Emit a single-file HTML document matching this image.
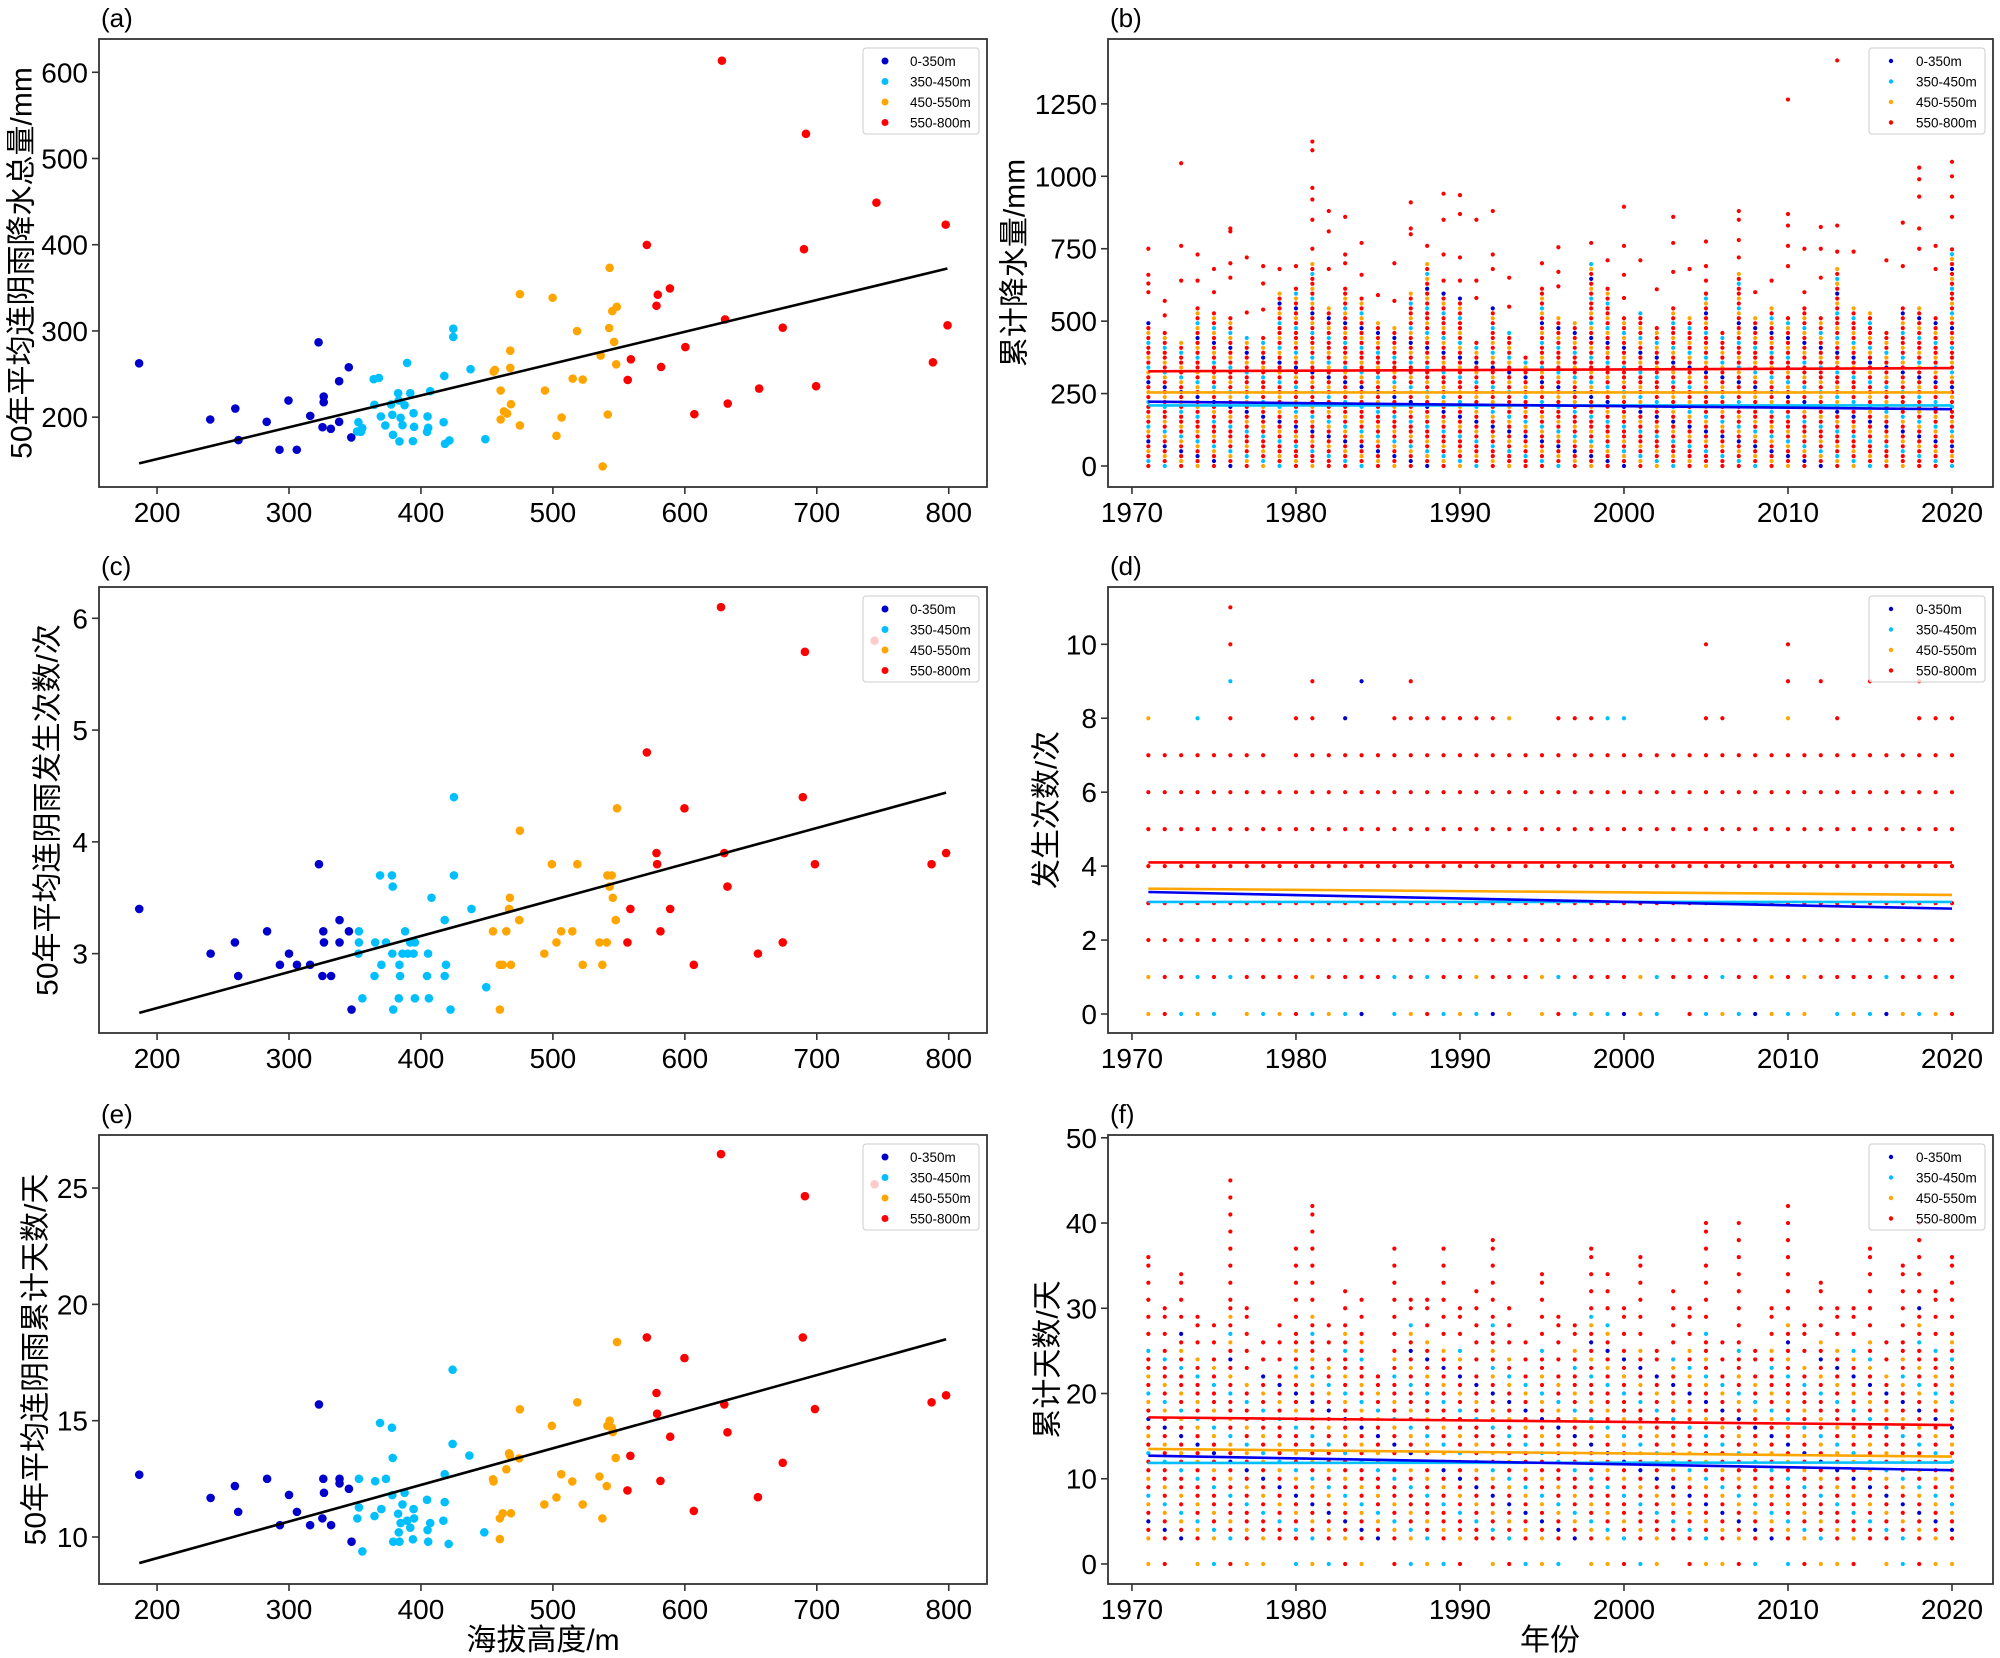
<!DOCTYPE html>
<html><head><meta charset="utf-8"><title>连阴雨 海拔与年际变化</title>
<style>
html,body{margin:0;padding:0;background:#fff;}
svg{display:block;}
text{font-family:"Liberation Sans","Noto Sans CJK SC",sans-serif;fill:#000;}
</style></head>
<body>
<svg id="chart" width="2000" height="1658" viewBox="0 0 2000 1658" xmlns="http://www.w3.org/2000/svg"></svg>
<script>
// ===== scatter data (elevation m, value) =====
const aBlue=[[186.4,262.5],[240.3,197.3],[259.3,210],[261.7,173.4],[283.1,194.6],[292.8,162.2],[299.6,219.3],[305.9,162.2],[316.1,201.5],[322.4,286.8],[325.4,188.4],[326.3,223.9],[326.3,217.4],[331.7,186.5],[338,241.7],[338,194.6],[345.3,257.9],[347.2,176.5]];
const aCyan=[[352.6,194.2],[351.6,183.4],[355.5,187.3],[354.5,183],[364.2,244],[364.7,214.3],[368.1,245.5],[369.6,200.8],[373,190.4],[377.4,214.7],[378.3,202.7],[378.8,179.5],[382.7,227.8],[383.2,219.3],[383.7,171.8],[384.6,199.2],[386,190.7],[387.6,213.9],[389.5,262.9],[391.9,227.8],[393.9,172.2],[394.4,204.6],[394.8,188.8],[404.6,183],[405,200.8],[405.5,187.6],[407,230.1],[417.2,194.2],[417.7,247.8],[418.2,169.1],[421.6,173],[424.5,293],[424.5,302.6],[437.6,255.6],[448.8,174.5]];
const aOrange=[[455.1,252.8],[456,254.8],[460.4,230.9],[460.4,197.3],[462.9,206.6],[465.3,204.2],[467.7,277.1],[467.7,257.1],[468.2,215],[475,342.7],[475,190.4],[494,230.9],[499.8,338.5],[502.7,178.4],[506.6,199.6],[518.3,299.9],[515,244.7],[522.6,243.6],[536.2,271.4],[537.7,142.9],[541.6,203.1],[542.6,303.4],[543,373.2],[545,323],[546.4,287.2],[548.4,328],[548,261.3]];
const aRed=[[556.7,243.2],[559.1,267.1],[571.2,399.8],[578.5,329.2],[579.5,342],[582,258.2],[588.7,349.3],[600.4,281.3],[607.2,203.5],[628.1,613.5],[630.5,313.4],[632.5,215.8],[656.3,233.2],[674.2,303.8],[690.3,394.8],[691.8,528.6],[699.5,235.9],[745.2,448.8],[788,263.6],[797.7,423.3],[799.1,306.5]];
const aTrend=[[186.4,146.4],[799,372.4]];

const cBlue=[[186.5,3.4],[240.6,3.0],[259,3.1],[261.5,2.8],[283.4,3.2],[293.1,2.9],[300,3.0],[306,2.9],[316,2.9],[322.7,3.8],[325.3,2.8],[326,3.2],[326.5,3.1],[331.9,2.8],[338.3,3.3],[338.3,3.1],[345.4,3.2],[347.4,2.5]];
const cCyan=[[352.6,3.0],[353,3.2],[353,3.1],[355.6,2.6],[364.8,2.8],[365.3,3.1],[369,3.7],[370,2.9],[373.5,3.1],[378,3.7],[378.6,3.6],[378.3,3.0],[379,2.5],[383.7,2.9],[384.2,2.8],[383.2,2.6],[386,3.0],[388,3.2],[390,3.0],[391.8,3.1],[394.4,3.0],[395.4,3.1],[395.4,2.6],[404.6,2.8],[405.4,3.0],[406,2.6],[408,3.5],[418,3.3],[419,2.9],[418,2.8],[422.4,2.5],[425,4.4],[425,3.7],[438.3,3.4],[449.5,2.7]];
const cOrange=[[454.6,3.2],[459.8,2.9],[462,2.9],[468.2,2.9],[459.8,2.5],[464.7,3.2],[466.8,3.4],[467.4,3.5],[474.5,3.3],[475,4.1],[493.5,3.0],[499.2,3.8],[502.7,3.1],[506.3,3.2],[514.7,3.2],[518.5,3.8],[522.6,2.9],[535.3,3.1],[537.5,2.9],[540.8,3.1],[541.3,3.7],[544.6,3.7],[543,3.6],[545.4,3.5],[547.6,3.3],[548.6,4.3]];
const cRed=[[556.5,3.1],[558.7,3.4],[571.2,4.8],[578.5,3.9],[579,3.8],[581.5,3.2],[588.9,3.4],[599.7,4.3],[606.8,2.9],[627.4,6.1],[629.9,3.9],[632.3,3.6],[655.4,3.0],[674.2,3.1],[689.4,4.4],[691,5.7],[698.6,3.8],[743.8,5.8],[787,3.8],[798,3.9]];
const cTrend=[[186.5,2.47],[798,4.44]];

const eBlue=[[186.5,12.68],[240.6,11.68],[259,12.19],[261.5,11.08],[283.4,12.5],[293.1,10.51],[300,11.81],[306,11.08],[316,10.51],[322.7,15.7],[325.3,10.8],[326,12.5],[326.5,11.9],[331.9,10.51],[338.3,12.5],[338.3,12.3],[345.4,12.07],[347.4,9.8]];
const eCyan=[[353,12.5],[353,11.27],[351.8,10.8],[355.6,9.38],[364.8,10.9],[365.3,12.4],[369,14.9],[370,11.2],[373.5,12.5],[378,14.7],[378.6,13.4],[378.3,11.8],[379,9.8],[382.7,11.0],[383.2,10.2],[383.7,9.8],[384.6,10.6],[386,11.4],[387.6,11.9],[389.5,10.7],[391.9,10.4],[393.9,9.9],[394.4,11.2],[394.8,10.8],[404.6,11.6],[405,10.3],[405.5,9.8],[407,10.6],[417,10.7],[418,11.5],[418,12.7],[421,9.7],[424,17.19],[424,14.0],[436.7,13.5],[448,10.2]];
const eOrange=[[454.6,12.48],[455,12.39],[459.8,10.8],[462,11.02],[468.2,11.02],[459.8,9.91],[464.7,12.91],[466.8,13.6],[467.4,13.5],[474.5,13.38],[475,15.49],[493.5,11.4],[499.2,14.78],[502.7,11.7],[506.3,12.7],[514.7,12.39],[518.5,15.79],[522.6,11.4],[535.3,12.6],[537.5,10.8],[540.8,12.19],[541.3,14.78],[543,15.0],[544.6,14.7],[545.4,14.51],[547.6,13.4],[548.6,18.38]];
const eRed=[[556.5,12.0],[558.7,13.49],[571.2,18.58],[578.5,16.19],[579,15.3],[581.5,12.41],[588.9,14.31],[599.7,17.69],[606.8,11.12],[627.4,26.46],[629.9,15.7],[632.3,14.5],[655.4,11.71],[674.2,13.19],[689.4,18.58],[691,24.65],[698.6,15.5],[743.8,25.16],[787,15.79],[798,16.09]];
const eTrend=[[186.5,8.88],[798,18.5]];

// ===== yearly data =====
const years=[1971,1972,1973,1974,1975,1976,1977,1978,1979,1980,1981,1982,1983,1984,1985,1986,1987,1988,1989,1990,1991,1992,1993,1994,1995,1996,1997,1998,1999,2000,2001,2002,2003,2004,2005,2006,2007,2008,2009,2010,2011,2012,2013,2014,2015,2016,2017,2018,2019,2020];
const bHigh=[500,470,430,560,540,520,450,450,600,620,700,560,620,580,500,490,600,700,600,580,430,560,460,390,620,520,500,700,620,510,540,480,550,520,600,460,670,510,560,520,550,510,680,550,540,460,560,560,510,750];
const bOutliers=[[1971,660],[1971,630],[1971,600],[1971,750],[1972,570],[1972,520],[1973,640],[1973,760],[1973,1045],[1974,640],[1974,730],[1975,600],[1975,680],[1976,650],[1976,700],[1976,820],[1976,810],[1977,530],[1977,720],[1978,540],[1978,630],[1978,690],[1979,680],[1980,690],[1981,750],[1981,850],[1981,920],[1981,960],[1981,1090],[1981,1120],[1982,680],[1982,810],[1982,880],[1983,700],[1983,730],[1983,860],[1984,660],[1984,770],[1985,590],[1986,570],[1986,700],[1987,800],[1987,820],[1987,910],[1988,760],[1989,640],[1989,730],[1989,850],[1989,940],[1990,640],[1990,720],[1990,870],[1990,935],[1991,580],[1991,640],[1991,850],[1992,680],[1992,730],[1992,880],[1993,550],[1993,650],[1995,700],[1996,620],[1996,670],[1996,755],[1998,770],[1999,710],[2000,580],[2000,660],[2000,760],[2000,895],[2001,710],[2002,610],[2003,670],[2003,770],[2003,860],[2004,680],[2005,640],[2005,690],[2005,775],[2007,720],[2007,780],[2007,850],[2007,880],[2008,600],[2009,640],[2010,690],[2010,760],[2010,830],[2010,870],[2010,1265],[2011,600],[2011,750],[2012,650],[2012,750],[2012,825],[2013,740],[2013,830],[2013,1400],[2014,740],[2016,710],[2017,690],[2017,840],[2018,750],[2018,820],[2018,930],[2018,990],[2018,1030],[2019,680],[2019,760],[2020,860],[2020,930],[2020,1000],[2020,1050]];
const bTrendBlue=[222,196];
const bTrendCyan=[209,209];
const bTrendOrange=[254,254];
const bTrendRed=[327,338];

const dMax=[7,7,7,7,7,7,7,7,6,7,7,7,7,7,7,7,7,7,7,7,7,7,7,7,7,7,7,7,7,7,7,7,7,7,7,7,7,7,7,7,7,7,7,7,7,7,7,7,7,7];
const dOutliers=[[1971,8,2],[1974,8,1],[1976,8,3],[1976,9,1],[1976,10,3],[1976,11,3],[1980,8,3],[1981,8,3],[1981,9,3],[1983,8,0],[1984,9,0],[1986,8,3],[1987,8,3],[1987,9,3],[1988,8,3],[1989,8,3],[1990,8,3],[1991,8,3],[1992,8,3],[1993,8,2],[1996,8,3],[1997,8,3],[1998,8,3],[1999,8,1],[2000,8,1],[2005,8,3],[2005,10,3],[2006,8,3],[2010,8,2],[2010,9,3],[2010,10,3],[2012,9,3],[2013,8,3],[2015,9,3],[2018,8,3],[2018,9,3],[2019,8,3],[2020,8,3]];
const dTrendBlue=[3.30,2.85];
const dTrendCyan=[3.03,3.03];
const dTrendOrange=[3.39,3.22];
const dTrendRed=[4.1,4.1];

const fTop=[36,30,34,29,28,45,30,26,28,37,42,28,32,31,22,37,31,31,37,30,32,38,30,26,34,29,28,37,34,30,36,25,32,30,40,26,40,25,30,42,28,33,30,30,37,26,35,40,32,36];
const fDense=[25,25,27,24,24,31,21,22,22,27,29,24,28,27,22,25,28,26,25,25,22,29,24,22,25,22,25,30,28,25,25,22,24,25,27,22,26,22,25,28,23,26,25,25,26,22,26,30,25,27];
const fTrendBlue=[12.7,11.0];
const fTrendCyan=[11.85,11.9];
const fTrendOrange=[13.5,12.6];
const fTrendRed=[17.2,16.3];

const groupNames=['0-350m','350-450m','450-550m','550-800m'];
const COLORS=['#0000cd','#00bfff','#ffa500','#ff0000'];

// ===== helpers =====
const NS='http://www.w3.org/2000/svg';
const svg=document.getElementById('chart');
function mk(tag,attrs,parent){const e=document.createElementNS(NS,tag);for(const k in attrs)e.setAttribute(k,attrs[k]);(parent||svg).appendChild(e);return e;}

function panel(id,box,xd,yd,xticks,yticks,ytitle,ytitleX,label){
  const g=mk('g',{});
  
  
  const sx=v=>box.l+(v-xd[0])/(xd[1]-xd[0])*(box.r-box.l);
  const sy=v=>box.b-(v-yd[0])/(yd[1]-yd[0])*(box.b-box.t);
  const plot=mk('g',{},g);
  
  
  const xa=mk('g',{},g);
  
  
  xticks.forEach(v=>{
    const x=sx(v);
    const t=mk('line',{x1:x,x2:x,y1:box.b,y2:box.b+7,stroke:'#333','stroke-width':1.6},xa);
    
    
    const tx=mk('text',{x:x,y:box.b+35,'text-anchor':'middle','font-size':28},xa);
    
    
    tx.textContent=v;
  });
  const ya=mk('g',{},g);
  
  
  yticks.forEach(v=>{
    const y=sy(v);
    const t=mk('line',{x1:box.l-7,x2:box.l,y1:y,y2:y,stroke:'#333','stroke-width':1.6},ya);
    
    
    const tx=mk('text',{x:box.l-11,y:y+10,'text-anchor':'end','font-size':28},ya);
    
    
    tx.textContent=v;
  });
  const cy=(box.t+box.b)/2;
  const yt=mk('text',{x:ytitleX,y:cy,'text-anchor':'middle','font-size':30,transform:'rotate(-90 '+ytitleX+' '+cy+')','dominant-baseline':'central'},g);
  
  
  yt.textContent=ytitle;
  const lb=mk('text',{x:box.l+2,y:box.t-12,'font-size':26},g);
  
  
  lb.textContent=label;
  return {g,plot,sx,sy,box};
}
function frame(p,id){
  const r=mk('rect',{x:p.box.l,y:p.box.t,width:p.box.r-p.box.l,height:p.box.b-p.box.t,fill:'none',stroke:'#333','stroke-width':1.8},p.g);
  
  
}
function legend(p,id,rad){
  const lg=mk('g',{},p.g);
  
  
  const x0=p.box.r-124,y0=p.box.t+9;
  mk('rect',{x:x0,y:y0,width:116,height:86,rx:3,fill:'#fff','fill-opacity':0.8,stroke:'#ccc','stroke-width':1},lg);
  groupNames.forEach((n,i)=>{
    const e=mk('g',{},lg);
    
    
    const yy=y0+13+i*20.5;
    mk('circle',{cx:x0+22,cy:yy,r:rad,fill:COLORS[i]},e);
    const t=mk('text',{x:x0+47,y:yy+5,'font-size':13.5},e);
    t.textContent=n;
  });
}
function scatter(p,id,sets){
  sets.forEach((pts,gi)=>{
    const sg=mk('g',{},p.plot);
    
    
    pts.forEach(d=>{
      const c=mk('circle',{cx:p.sx(d[0]),cy:p.sy(d[1]),r:4.3,fill:COLORS[gi]},sg);
      
      
    });
  });
}
function trendLine(p,tr,color,name,w){
  const l=mk('line',{x1:p.sx(tr[0][0]),y1:p.sy(tr[0][1]),x2:p.sx(tr[1][0]),y2:p.sy(tr[1][1]),stroke:color,'stroke-width':w||2.6},p.plot);
  
  
}
function dot(p,yr,v,gi,parent){
  const c=mk('circle',{cx:p.sx(yr),cy:p.sy(v),r:2.1,fill:COLORS[gi]},parent);
  
  
}
const mixPat=[3,1,3,2,3,0,3,2,1,3,2,3];

const L={l:99,r:987}, R={l:1108,r:1993};
const row1={t:39,b:487}, row2={t:587,b:1033}, row3={t:1135,b:1584};
const elevTicks=[200,300,400,500,600,700,800];
const yearTicks=[1970,1980,1990,2000,2010,2020];

// (a)
const pa=panel('a',{...L,...row1},[156,829],[119,638.6],elevTicks,[200,300,400,500,600],'50年平均连阴雨降水总量/mm',22,'(a)');
scatter(pa,'a',[aBlue,aCyan,aOrange,aRed]);
trendLine(pa,aTrend,'#000','trend-line-a');
frame(pa,'a'); legend(pa,'a',3.5);
// (c)
const pc=panel('c',{...L,...row2},[156,829],[2.29,6.28],elevTicks,[3,4,5,6],'50年平均连阴雨发生次数/次',48,'(c)');
scatter(pc,'c',[cBlue,cCyan,cOrange,cRed]);
trendLine(pc,cTrend,'#000','trend-line-c');
frame(pc,'c'); legend(pc,'c',3.5);
// (e)
const pe=panel('e',{...L,...row3},[156,829],[7.98,27.28],elevTicks,[10,15,20,25],'50年平均连阴雨累计天数/天',36,'(e)');
scatter(pe,'e',[eBlue,eCyan,eOrange,eRed]);
trendLine(pe,eTrend,'#000','trend-line-e');
frame(pe,'e'); legend(pe,'e',3.5);

const xYear=[1968.54,2022.5];
function yearTrends(p,id,tb,tc,to,tr){
  [[tc,1,'cyan'],[to,2,'orange'],[tb,0,'blue'],[tr,3,'red']].forEach(s=>{
    trendLine(p,[[years[0],s[0][0]],[years[years.length-1],s[0][1]]],COLORS[s[1]]==='#0000cd'?'#0000ee':COLORS[s[1]],'trend-line-'+id+'-'+s[2],2.6);
  });
}
// (b)
const pb=panel('b',{...R,...row1},xYear,[-72.5,1474],yearTicks,[0,250,500,750,1000,1250],'累计降水量/mm',1015,'(b)');
{
  const sg=mk('g',{},pb.plot);
  
  
  years.forEach((yr,i)=>{
    let k=0;
    for(let v=0;v<=bHigh[i];v+=17){dot(pb,yr,v,mixPat[(k+i)%mixPat.length],sg);k++;}
  });
  bOutliers.forEach(o=>dot(pb,o[0],o[1],3,sg));
}
yearTrends(pb,'b',bTrendBlue,bTrendCyan,bTrendOrange,bTrendRed);
frame(pb,'b'); legend(pb,'b',2.2);
// (d)
const pd=panel('d',{...R,...row2},xYear,[-0.514,11.55],yearTicks,[0,2,4,6,8,10],'发生次数/次',1047,'(d)');
{
  const sg=mk('g',{},pd.plot);
  
  
  years.forEach((yr,i)=>{
    if(i%9!==5) dot(pd,yr,0,[2,3,1,2,1,0,2,1][i%8],sg);
    for(let v=1;v<=dMax[i];v++){
      let gi=3;
      if(v===1&&(i%5===0||i%7===3))gi=[2,1][i%2];
      dot(pd,yr,v,gi,sg);
    }
  });
  dOutliers.forEach(o=>dot(pd,o[0],o[1],o[2],sg));
}
yearTrends(pd,'d',dTrendBlue,dTrendCyan,dTrendOrange,dTrendRed);
frame(pd,'d'); legend(pd,'d',2.2);
// (f)
const pf=panel('f',{...R,...row3},xYear,[-2.35,50.33],yearTicks,[0,10,20,30,40,50],'累计天数/天',1048,'(f)');
{
  const sg=mk('g',{},pf.plot);
  
  
  years.forEach((yr,i)=>{
    if(i%6!==2) dot(pf,yr,0,[2,3,1,2,1,3,2][i%7],sg);
    for(let v=3;v<=fDense[i];v++) dot(pf,yr,v,mixPat[(v+i)%mixPat.length],sg);
    for(let v=fDense[i]+2;v<fTop[i];v+=2) dot(pf,yr,v,3,sg);
    dot(pf,yr,fTop[i],3,sg);
  });
}
yearTrends(pf,'f',fTrendBlue,fTrendCyan,fTrendOrange,fTrendRed);
frame(pf,'f'); legend(pf,'f',2.2);

// x titles
const xt1=mk('text',{x:543,y:1650,'text-anchor':'middle','font-size':30});


xt1.textContent='海拔高度/m';
const xt2=mk('text',{x:1550,y:1650,'text-anchor':'middle','font-size':30});


xt2.textContent='年份';
</script>
</body></html>
